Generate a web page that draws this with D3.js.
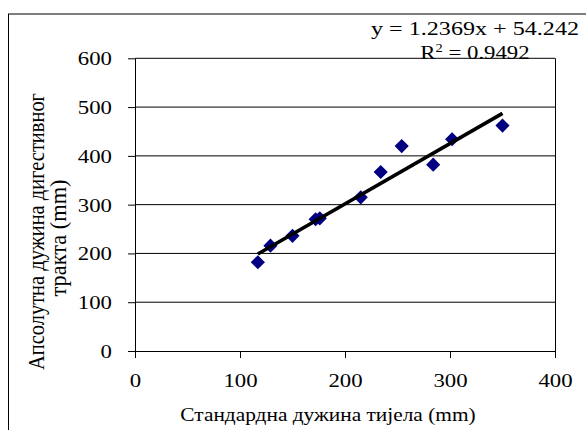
<!DOCTYPE html>
<html>
<head>
<meta charset="utf-8">
<script src="https://cdn.jsdelivr.net/npm/d3@7"></script>
<style>
  body { margin: 0; background: #fff; }
  text { font-family: "Liberation Serif", "Times New Roman", serif; fill: #000; }
</style>
</head>
<body>
<svg id="chart"></svg>
<script>
// data
const lengthSL = [117, 129, 150, 172, 176, 215, 234, 254, 284, 302, 350];
const lengthGut = [182, 216, 236, 270, 272, 315, 367, 420, 382, 434, 462];
const xTicks = [0, 100, 200, 300, 400];
const yTicks = [0, 100, 200, 300, 400, 500, 600];
const slope = 1.2369, intercept = 54.242, r2 = "0.9492";
const xTitle = "Стандардна дужина тијела (mm)";
const yTitle = ["Апсолутна дужина дигестивног", "тракта (mm)"];

const width = 586, height = 430;
const margin = {top: 58.3, right: 31, bottom: 79, left: 135};
const sx = 1.2;   // picture is stretched sideways
const fs = 19;

const svg = d3.select("#chart")
    .attr("width", width)
    .attr("height", height);

// outer chart frame (cut off at right and bottom)
svg.append("rect")
    .attr("x", 8.5).attr("y", 14)
    .attr("width", 700).attr("height", 600)
    .attr("fill", "none")
    .attr("stroke", "#000");

const x = d3.scaleLinear()
    .domain([0, 400])
    .range([margin.left, width - margin.right]);

const y = d3.scaleLinear()
    .domain([0, 600])
    .range([height - margin.bottom, margin.top]);

// gridlines
svg.append("g")
    .selectAll("line")
    .data(yTicks.slice(1))
    .join("line")
    .attr("x1", x(0)).attr("x2", x(400))
    .attr("y1", d => y(d)).attr("y2", d => y(d))
    .attr("stroke", "#000");

// right border of plot area
svg.append("line")
    .attr("x1", x(400) + 0.5).attr("x2", x(400) + 0.5)
    .attr("y1", y(600)).attr("y2", y(0))
    .attr("stroke", "#000");

// axes
const xAxis = svg.append("g")
    .attr("transform", `translate(0,${y(0)})`)
    .call(d3.axisBottom(x).tickValues(xTicks).tickSize(7).tickSizeOuter(0));
xAxis.selectAll("text")
    .attr("y", 0).attr("dy", 0)
    .attr("transform", `translate(0,35.5) scale(${sx},1)`)
    .style("font-size", fs + "px");

const yAxis = svg.append("g")
    .attr("transform", `translate(${x(0)},0)`)
    .call(d3.axisLeft(y).tickValues(yTicks).tickSize(7).tickSizeOuter(0));
yAxis.selectAll("text")
    .attr("x", 0).attr("dy", "0.34em")
    .attr("transform", `translate(-23,0) scale(${sx},1)`)
    .style("font-size", fs + "px");

svg.selectAll(".domain, .tick line").attr("stroke", "#000");
svg.selectAll(".tick text").style("font-family", "'Liberation Serif', serif").attr("fill", "#000");

// points
const diamond = d3.symbol(d3.symbolSquare, 100);
svg.append("g")
    .selectAll("path")
    .data(lengthSL.map((d, i) => [d, lengthGut[i]]))
    .join("path")
    .attr("d", diamond)
    .attr("transform", d => `translate(${x(d[0])},${y(d[1])}) rotate(45)`)
    .attr("fill", "#000080");

// linear trendline
const xr = d3.extent(lengthSL);
svg.append("line")
    .attr("x1", x(xr[0])).attr("y1", y(slope * xr[0] + intercept))
    .attr("x2", x(xr[1])).attr("y2", y(slope * xr[1] + intercept))
    .attr("stroke", "#000")
    .attr("stroke-width", 3.6);

// trendline label
svg.append("text")
    .attr("transform", `translate(475,35) scale(1.27,1)`)
    .attr("text-anchor", "middle")
    .style("font-size", fs + "px")
    .text(`y = ${slope}x + ${intercept}`);

const r2label = svg.append("text")
    .attr("transform", `translate(475,58.5) scale(${sx},1)`)
    .attr("text-anchor", "middle")
    .style("font-size", fs + "px");
r2label.append("tspan").text("R");
r2label.append("tspan").attr("dy", -7).style("font-size", "12px").text("2");
r2label.append("tspan").attr("dy", 7).text(" = " + r2);

// axis titles
svg.append("text")
    .attr("transform", `translate(328,421) scale(1.125,1)`)
    .attr("text-anchor", "middle")
    .style("font-size", fs + "px")
    .text(xTitle);

const yTitleCenter = [231.5, 238];
const yTitleLen = [277, 117];
svg.append("g")
    .selectAll("text")
    .data(yTitle)
    .join("text")
    .attr("transform", (d, i) => `translate(${44 + i * 22},${yTitleCenter[i]}) scale(${sx},1) rotate(-90)`)
    .attr("text-anchor", "middle")
    .attr("textLength", (d, i) => yTitleLen[i])
    .attr("lengthAdjust", "spacingAndGlyphs")
    .style("font-size", fs + "px")
    .text(d => d);
</script>
</body>
</html>
